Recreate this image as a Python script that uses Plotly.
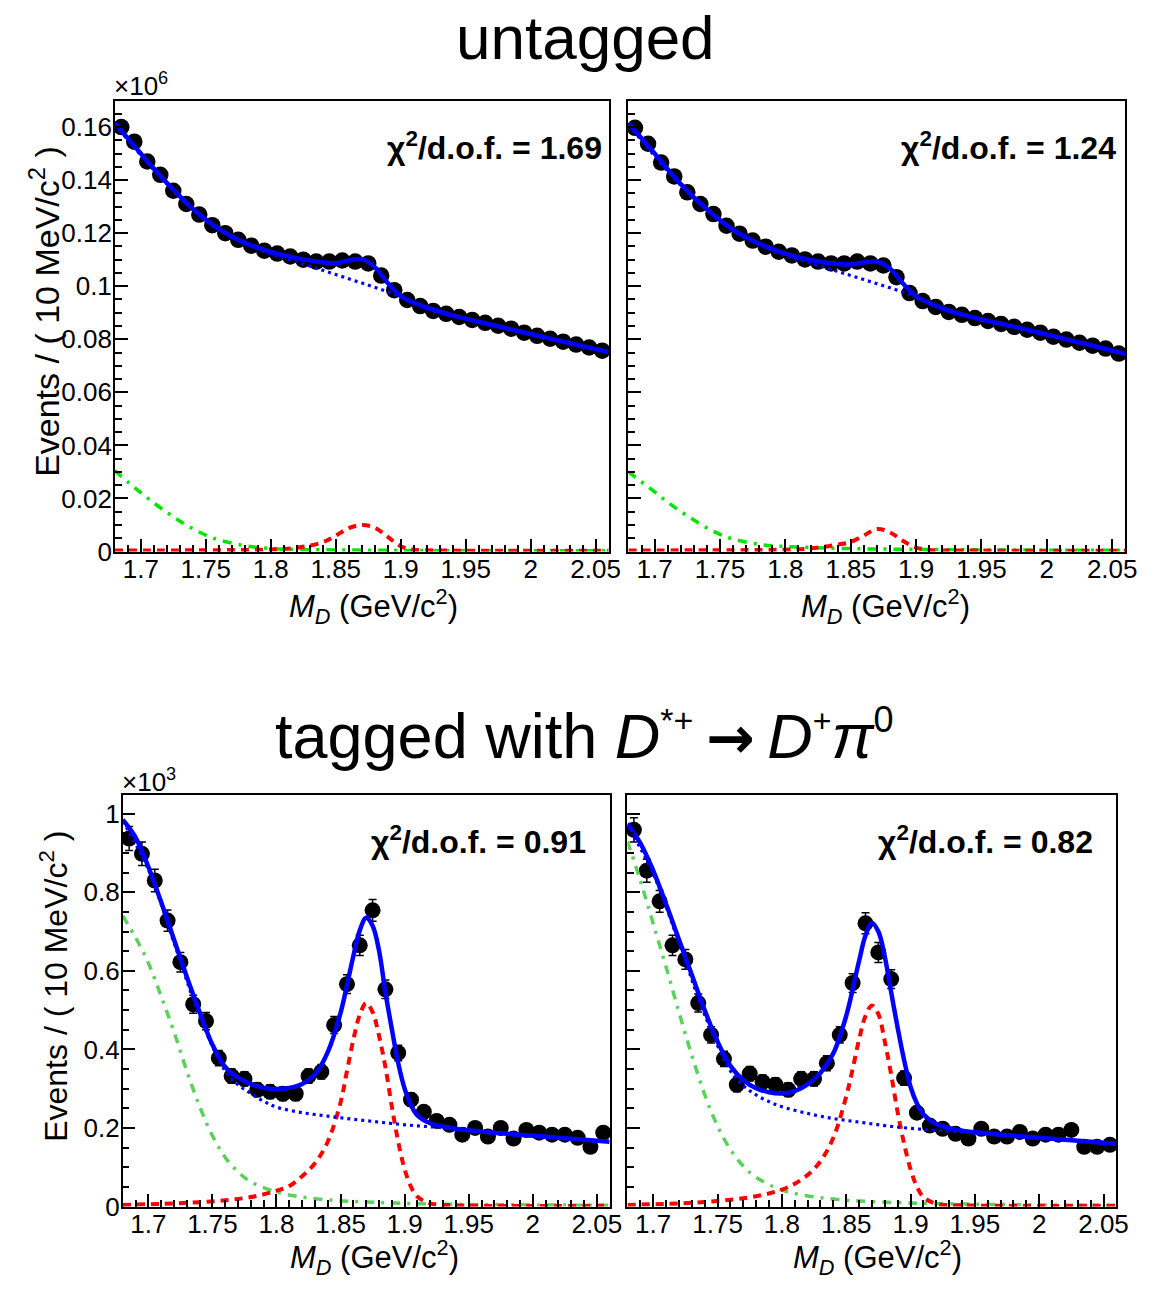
import numpy as np
import plotly.graph_objects as go

# ---------------- data ----------------
bin_centers = [1.685, 1.695, 1.705, 1.715, 1.725, 1.735, 1.745, 1.755, 1.765, 1.775,
               1.785, 1.795, 1.805, 1.815, 1.825, 1.835, 1.845, 1.855, 1.865, 1.875,
               1.885, 1.895, 1.905, 1.915, 1.925, 1.935, 1.945, 1.955, 1.965, 1.975,
               1.985, 1.995, 2.005, 2.015, 2.025, 2.035, 2.045, 2.055]

# untagged (x10^6 events / 10 MeV)
ut_A_counts = [0.1600, 0.1545, 0.1470, 0.1420, 0.1360, 0.1310, 0.1270, 0.1230, 0.1200, 0.1175,
               0.1153, 0.1134, 0.1123, 0.1112, 0.1100, 0.1093, 0.1093, 0.1097, 0.1093, 0.1086,
               0.1040, 0.0985, 0.0948, 0.0925, 0.0907, 0.0896, 0.0884, 0.0873, 0.0862, 0.0851,
               0.0840, 0.0825, 0.0813, 0.0802, 0.0791, 0.0780, 0.0769, 0.0757]
ut_B_counts = [0.1597, 0.1537, 0.1466, 0.1414, 0.1354, 0.1310, 0.1272, 0.1228, 0.1198, 0.1172,
               0.1149, 0.1130, 0.1116, 0.1101, 0.1093, 0.1086, 0.1086, 0.1093, 0.1086, 0.1078,
               0.1034, 0.0974, 0.0944, 0.0922, 0.0903, 0.0892, 0.0880, 0.0869, 0.0858, 0.0847,
               0.0836, 0.0825, 0.0810, 0.0799, 0.0787, 0.0776, 0.0765, 0.0746]

# tagged (x10^3 events / 10 MeV)
tg_A_counts = [0.937, 0.898, 0.830, 0.728, 0.622, 0.515, 0.472, 0.378, 0.332, 0.325,
               0.297, 0.292, 0.287, 0.287, 0.332, 0.343, 0.462, 0.566, 0.665, 0.754,
               0.553, 0.391, 0.272, 0.241, 0.218, 0.208, 0.183, 0.200, 0.178, 0.200,
               0.173, 0.195, 0.188, 0.183, 0.183, 0.175, 0.152, 0.188]
tg_B_counts = [0.959, 0.855, 0.777, 0.665, 0.629, 0.518, 0.437, 0.376, 0.310, 0.338,
               0.317, 0.310, 0.297, 0.325, 0.325, 0.365, 0.437, 0.569, 0.721, 0.647,
               0.579, 0.327, 0.239, 0.206, 0.198, 0.185, 0.173, 0.198, 0.178, 0.178,
               0.190, 0.173, 0.183, 0.183, 0.195, 0.152, 0.152, 0.157]

# fit curves, untagged
ut_curve_x = [1.68, 1.70, 1.72, 1.74, 1.76, 1.78, 1.80, 1.82, 1.84, 1.85, 1.86, 1.87,
              1.88, 1.89, 1.90, 1.91, 1.92, 1.94, 1.96, 1.98, 2.00, 2.02, 2.04, 2.06]
ut_A_total = [0.1615, 0.1500, 0.1390, 0.1292, 0.1216, 0.1164, 0.1129, 0.1106, 0.1090, 0.1087, 0.1097, 0.1102,
              0.1072, 0.1012, 0.0963, 0.0938, 0.0920, 0.0890, 0.0866, 0.0843, 0.0820, 0.0797, 0.0774, 0.0752]
ut_B_total = [0.1615, 0.1500, 0.1385, 0.1290, 0.1213, 0.1160, 0.1123, 0.1098, 0.1084, 0.1082, 0.1089, 0.1092,
              0.1067, 0.1010, 0.0962, 0.0937, 0.0917, 0.0887, 0.0864, 0.0842, 0.0818, 0.0794, 0.0770, 0.0745]
ut_bkg_x = [1.68, 1.72, 1.76, 1.80, 1.82, 1.84, 1.86, 1.88, 1.90, 1.92, 1.96, 2.00, 2.04, 2.06]
ut_A_bkg = [0.1610, 0.1386, 0.1212, 0.1122, 0.1092, 0.1060, 0.1028, 0.0996, 0.0960, 0.0915, 0.0863, 0.0817, 0.0771, 0.0749]
ut_B_bkg = [0.1610, 0.1381, 0.1209, 0.1116, 0.1086, 0.1056, 0.1025, 0.0994, 0.0960, 0.0913, 0.0861, 0.0815, 0.0767, 0.0742]
ut_comb_x = [1.68, 1.69, 1.70, 1.71, 1.72, 1.73, 1.74, 1.75, 1.76, 1.78, 1.80, 1.85, 1.90, 1.95, 2.00, 2.06]
ut_A_comb = [0.0305, 0.0262, 0.0222, 0.0183, 0.0148, 0.0115, 0.0086, 0.0062, 0.0044, 0.0022, 0.0011, 0.0006,
             0.0004, 0.0003, 0.0003, 0.0003]
ut_B_comb = [0.0300, 0.0262, 0.0225, 0.0186, 0.0151, 0.0119, 0.0089, 0.0065, 0.0047, 0.0027, 0.0019, 0.0011,
             0.0008, 0.0006, 0.0005, 0.0005]
ut_sig_x = [1.68, 1.76, 1.80, 1.82, 1.84, 1.85, 1.86, 1.87, 1.88, 1.89, 1.90, 1.91, 1.93, 2.06]
ut_A_sig = [0.0004, 0.0005, 0.0008, 0.0014, 0.0035, 0.0060, 0.0088, 0.0100, 0.0090, 0.0055, 0.0020, 0.0007, 0.0004, 0.0003]
ut_B_sig = [0.0004, 0.0005, 0.0007, 0.0012, 0.0026, 0.0036, 0.0060, 0.0085, 0.0072, 0.0040, 0.0015, 0.0006, 0.0004, 0.0003]

# fit curves, tagged
tg_curve_x = [1.68, 1.69, 1.70, 1.71, 1.72, 1.73, 1.74, 1.75, 1.76, 1.77, 1.78, 1.79, 1.80, 1.81, 1.82,
              1.83, 1.84, 1.85, 1.86, 1.865, 1.87, 1.875, 1.88, 1.885, 1.89, 1.895, 1.90, 1.905, 1.91,
              1.92, 1.94, 1.96, 1.98, 2.00, 2.02, 2.04, 2.06]
tg_A_total = [0.985, 0.940, 0.865, 0.775, 0.680, 0.585, 0.495, 0.412, 0.355, 0.328, 0.312, 0.302, 0.299, 0.302,
              0.312, 0.336, 0.393, 0.493, 0.638, 0.703, 0.735, 0.715, 0.652, 0.545, 0.452, 0.365, 0.300, 0.258,
              0.232, 0.212, 0.198, 0.191, 0.185, 0.180, 0.175, 0.170, 0.165]
tg_B_total = [0.975, 0.925, 0.855, 0.770, 0.680, 0.590, 0.500, 0.420, 0.358, 0.322, 0.301, 0.291, 0.288, 0.294,
              0.311, 0.340, 0.390, 0.485, 0.625, 0.690, 0.722, 0.700, 0.636, 0.545, 0.455, 0.373, 0.305, 0.262,
              0.235, 0.210, 0.193, 0.186, 0.180, 0.175, 0.170, 0.165, 0.160]
tg_bkg_x = [1.68, 1.70, 1.72, 1.74, 1.76, 1.77, 1.78, 1.79, 1.80, 1.82, 1.84, 1.86, 1.88, 1.90, 1.92, 1.94,
            1.96, 2.00, 2.04, 2.06]
tg_A_bkg = [0.981, 0.858, 0.672, 0.485, 0.345, 0.310, 0.288, 0.268, 0.253, 0.239, 0.230, 0.222, 0.215, 0.208,
            0.203, 0.198, 0.191, 0.180, 0.170, 0.165]
tg_B_bkg = [0.971, 0.847, 0.672, 0.488, 0.345, 0.308, 0.284, 0.267, 0.254, 0.237, 0.224, 0.215, 0.206, 0.199,
            0.194, 0.190, 0.186, 0.175, 0.165, 0.160]
tg_comb_x = [1.68, 1.69, 1.70, 1.71, 1.72, 1.73, 1.74, 1.75, 1.76, 1.77, 1.78, 1.80, 1.82, 1.84, 1.86, 1.90,
             1.95, 2.00, 2.06]
tg_A_comb = [0.740, 0.685, 0.620, 0.535, 0.445, 0.345, 0.255, 0.180, 0.125, 0.088, 0.063, 0.037, 0.024, 0.017,
             0.013, 0.008, 0.005, 0.004, 0.003]
tg_B_comb = [0.930, 0.830, 0.720, 0.610, 0.495, 0.385, 0.285, 0.205, 0.145, 0.103, 0.074, 0.042, 0.027, 0.019,
             0.014, 0.009, 0.006, 0.004, 0.003]
tg_sig_x = [1.68, 1.72, 1.75, 1.78, 1.80, 1.81, 1.82, 1.83, 1.84, 1.85, 1.855, 1.86, 1.865, 1.87, 1.875,
            1.88, 1.885, 1.89, 1.895, 1.90, 1.905, 1.91, 1.92, 1.94, 2.06]
tg_A_sig = [0.004, 0.008, 0.013, 0.024, 0.040, 0.052, 0.077, 0.110, 0.165, 0.265, 0.345, 0.425, 0.488, 0.518,
            0.495, 0.435, 0.355, 0.255, 0.165, 0.095, 0.050, 0.025, 0.008, 0.003, 0.002]
tg_B_sig = [0.004, 0.008, 0.014, 0.026, 0.043, 0.058, 0.080, 0.115, 0.175, 0.280, 0.350, 0.425, 0.485, 0.512,
            0.490, 0.420, 0.335, 0.240, 0.160, 0.095, 0.050, 0.024, 0.007, 0.003, 0.002]

chi2_labels = ["1.69", "1.24", "0.91", "0.82"]

x_tickvals = [1.7, 1.75, 1.8, 1.85, 1.9, 1.95, 2.0, 2.05]
x_ticktext = ["1.7", "1.75", "1.8", "1.85", "1.9", "1.95", "2", "2.05"]
ut_y_tickvals = [0, 0.02, 0.04, 0.06, 0.08, 0.10, 0.12, 0.14, 0.16]
ut_y_ticktext = ["0", "0.02", "0.04", "0.06", "0.08", "0.1", "0.12", "0.14", "0.16"]
tg_y_tickvals = [0, 0.2, 0.4, 0.6, 0.8, 1.0]
tg_y_ticktext = ["0", "0.2", "0.4", "0.6", "0.8", "1"]

# ---------------- figure ----------------
W, H = 1165, 1290
FONT = "Liberation Sans, Arial, Helvetica, sans-serif"
BLUE, RED = "#0000ff", "#ff0000"
GREEN_TOP, GREEN_BOT = "#00e600", "#5ad25a"

fig = go.Figure()

def px_x(p):
    return p / W

def px_y(p):
    return 1 - p / H

panels = [
    dict(ax="", counts=ut_A_counts, err=False, cx=ut_curve_x, tot=ut_A_total, bx=ut_bkg_x, bkg=ut_A_bkg,
         gx=ut_comb_x, comb=ut_A_comb, sx=ut_sig_x, sig=ut_A_sig, green=GREEN_TOP, msize=16.5),
    dict(ax="2", counts=ut_B_counts, err=False, cx=ut_curve_x, tot=ut_B_total, bx=ut_bkg_x, bkg=ut_B_bkg,
         gx=ut_comb_x, comb=ut_B_comb, sx=ut_sig_x, sig=ut_B_sig, green=GREEN_TOP, msize=16.5),
    dict(ax="3", counts=tg_A_counts, err=True, cx=tg_curve_x, tot=tg_A_total, bx=tg_bkg_x, bkg=tg_A_bkg,
         gx=tg_comb_x, comb=tg_A_comb, sx=tg_sig_x, sig=tg_A_sig, green=GREEN_BOT, msize=16),
    dict(ax="4", counts=tg_B_counts, err=True, cx=tg_curve_x, tot=tg_B_total, bx=tg_bkg_x, bkg=tg_B_bkg,
         gx=tg_comb_x, comb=tg_B_comb, sx=tg_sig_x, sig=tg_B_sig, green=GREEN_BOT, msize=16),
]

for p in panels:
    xa, ya = "x" + p["ax"], "y" + p["ax"]
    err = None
    if p["err"]:
        err = dict(type="data", array=np.sqrt(np.array(p["counts"]) * 1000.0) / 1000.0,
                   color="black", thickness=1.5, width=4)
    fig.add_trace(go.Scatter(x=bin_centers, y=p["counts"], mode="markers", xaxis=xa, yaxis=ya,
                             marker=dict(color="black", size=p["msize"], line=dict(width=0)),
                             error_y=err, cliponaxis=False, showlegend=False))
    fig.add_trace(go.Scatter(x=p["gx"], y=p["comb"], mode="lines", xaxis=xa, yaxis=ya,
                             line=dict(color=p["green"], width=3.5, dash="9px,7px,3px,7px", shape="spline"),
                             showlegend=False))
    fig.add_trace(go.Scatter(x=p["sx"], y=p["sig"], mode="lines", xaxis=xa, yaxis=ya,
                             line=dict(color=RED, width=4, dash="8px,6px", shape="spline"),
                             showlegend=False))
    fig.add_trace(go.Scatter(x=p["bx"], y=p["bkg"], mode="lines", xaxis=xa, yaxis=ya,
                             line=dict(color=BLUE, width=3.2, dash="3px,4px", shape="spline"),
                             showlegend=False))
    fig.add_trace(go.Scatter(x=p["cx"], y=p["tot"], mode="lines", xaxis=xa, yaxis=ya,
                             line=dict(color=BLUE, width=4.5, shape="spline"),
                             showlegend=False))

tickfont = dict(family=FONT, size=26, color="black")

def xaxis(domain, anchor):
    return dict(domain=domain, anchor=anchor, range=[1.68, 2.06], showgrid=False, zeroline=False,
                showline=True, linecolor="black", linewidth=1.5, mirror=True,
                tickmode="array", tickvals=x_tickvals, ticktext=x_ticktext,
                ticks="inside", ticklen=13, tickwidth=1.5, tickcolor="black",
                minor=dict(tickmode="linear", tick0=1.68, dtick=0.01, ticks="inside", ticklen=7,
                           tickwidth=1.5, tickcolor="black"),
                tickfont=tickfont, ticklabelstandoff=-6)

def yaxis(domain, anchor, rng, tv, tt, minor_dt, labels):
    return dict(domain=domain, anchor=anchor, range=rng, showgrid=False, zeroline=False,
                showline=True, linecolor="black", linewidth=1.5, mirror=True,
                tickmode="array", tickvals=tv, ticktext=tt, showticklabels=labels,
                ticks="inside", ticklen=13, tickwidth=1.5, tickcolor="black",
                minor=dict(tickmode="linear", tick0=0, dtick=minor_dt, ticks="inside", ticklen=7,
                           tickwidth=1.5, tickcolor="black"),
                tickfont=tickfont, ticklabelstandoff=-4)

top_dom = [px_y(558), px_y(101.7)]
bot_dom = [px_y(1220.7), px_y(804)]

fig.update_layout(
    width=W, height=H, margin=dict(l=0, r=0, t=0, b=0),
    paper_bgcolor="white", plot_bgcolor="white",
    font=dict(family=FONT, color="black"),
    xaxis=xaxis([px_x(116), px_x(615)], "y"),
    xaxis2=xaxis([px_x(635), px_x(1137)], "y2"),
    xaxis3=xaxis([px_x(124), px_x(616)], "y3"),
    xaxis4=xaxis([px_x(634), px_x(1128)], "y4"),
    yaxis=yaxis(top_dom, "x", [0, 0.170], ut_y_tickvals, ut_y_ticktext, 0.005, True),
    yaxis2=yaxis(top_dom, "x2", [0, 0.170], ut_y_tickvals, ut_y_ticktext, 0.005, False),
    yaxis3=yaxis(bot_dom, "x3", [0, 1.0486], tg_y_tickvals, tg_y_ticktext, 0.05, True),
    yaxis4=yaxis(bot_dom, "x4", [0, 1.0486], tg_y_tickvals, tg_y_ticktext, 0.05, False),
)

ann = []

def text(x, y, s, size, xanchor="center", angle=0):
    ann.append(dict(x=px_x(x), y=px_y(y), xref="paper", yref="paper", text=s, showarrow=False,
                    xanchor=xanchor, yanchor="middle", textangle=angle,
                    font=dict(family=FONT, size=size, color="black")))

text(592, 38, "untagged", 62)
arrow = "\u2009<span style=\"font-family:'DejaVu Sans';font-weight:bold;font-size:58px\">→</span>\u2009"
text(591, 744,
     "tagged with <i>D</i><sup><span style=\"font-size:34px\">*+</span></sup>" + arrow +
     "<i>D</i><sup><span style=\"font-size:32px\">+</span></sup><i>π</i><sup><span style=\"font-size:36px\">0</span></sup>",
     63)

ytitle = "Events / ( 10 MeV/c<sup>2</sup> )"
text(45, 315, ytitle, 34, angle=-90)
text(55, 998, ytitle, 32, angle=-90)

xtitle = "<i>M</i><sub><i>D</i></sub> (GeV/c<sup>2</sup>)"
text(377, 614, xtitle, 31)
text(895, 614, xtitle, 31)
text(378, 1272, xtitle, 31)
text(887, 1272, xtitle, 31)

chi_pos = [(610, 148), (1130, 148), (594, 850), (1106, 850)]
for (cx, cy), lab in zip(chi_pos, chi2_labels):
    text(cx, cy, "<b>χ<sup>2</sup>/d.o.f. = " + lab + "</b>", 32, xanchor="right")

text(113, 86, "×10<sup>6</sup>", 26, xanchor="left")
text(121, 790, "×10<sup>3</sup>", 26, xanchor="left")

fig.update_layout(annotations=ann)

fig.write_html("out.html")
